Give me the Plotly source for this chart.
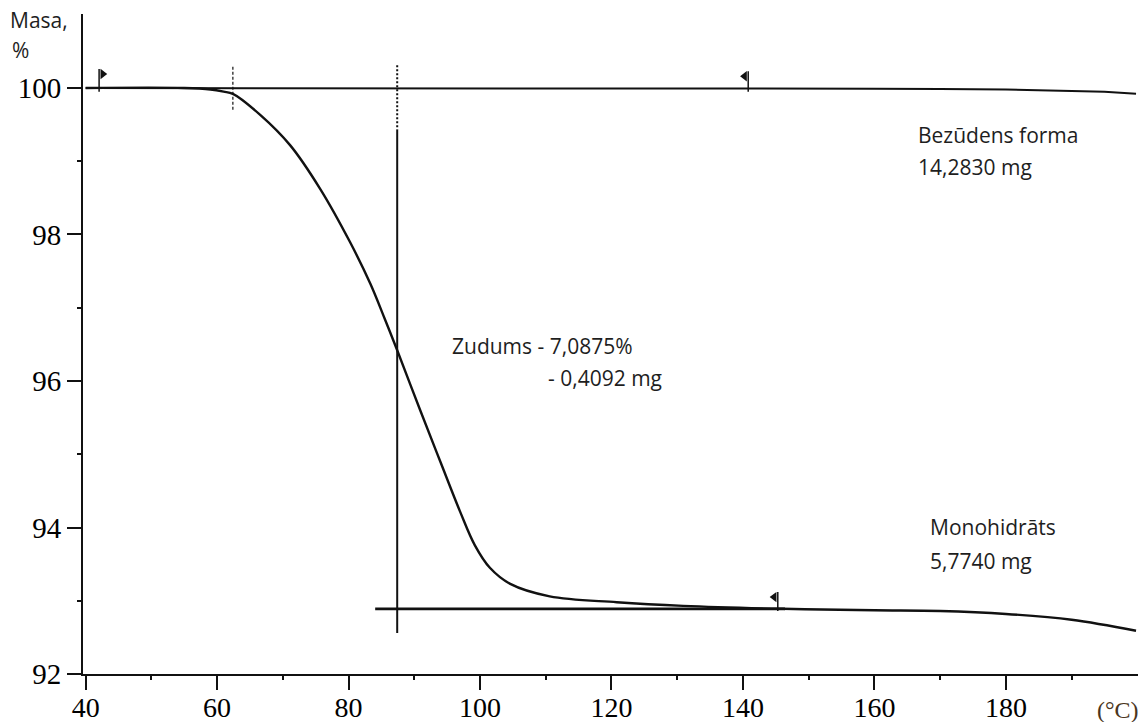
import plotly.graph_objects as go

# ---- data ----
temp_upper = [40, 60, 80, 100, 120, 140, 160, 170, 180, 190, 195, 199.8]
mass_upper = [100, 100, 100, 100, 100, 100, 99.99, 99.985, 99.98, 99.96, 99.95, 99.92]

temp_main = [40, 55, 59, 61, 62.4, 66.6, 71.1, 75.7, 80.2, 83.3, 85.5, 87.4, 90.9, 94.0,
             97.0, 99.2, 101.5, 104.6, 110.6, 120.8, 130.9, 146, 160, 170, 180, 190, 199.8]
mass_main = [100, 100, 99.98, 99.95, 99.92, 99.63, 99.22, 98.62, 97.90, 97.33, 96.85, 96.42,
             95.60, 94.89, 94.21, 93.76, 93.45, 93.23, 93.06, 92.98, 92.93, 92.89, 92.87,
             92.86, 92.82, 92.74, 92.59]

base_temp = [84.05, 146.4]
base_mass = [92.89, 92.89]

vline_temp = 87.4
vline_dash_mass = [100.31, 99.43]
vline_solid_mass = [99.43, 92.56]

onset_temp = 62.4
onset_mass = [100.29, 99.70]

flag_temp = [42.05, 140.8, 145.3]
flag_top = [100.26, 100.23, 93.12]
flag_bottom = [99.95, 99.95, 92.86]
flag_symbol = ["triangle-right", "triangle-left", "triangle-left"]
flag_offset = [0.55, -0.55, -0.55]

x_ticks = [40, 60, 80, 100, 120, 140, 160, 180]
x_minor = [50, 70, 90, 110, 130, 150, 170, 190]
y_ticks = [92, 94, 96, 98, 100]
y_minor = [93, 95, 97, 99]

ink = "#111111"
text_col = "#1e1e1e"

fig = go.Figure()

fig.add_trace(go.Scatter(x=temp_upper, y=mass_upper, mode="lines",
                         line=dict(color=ink, width=2), hoverinfo="skip"))
fig.add_trace(go.Scatter(x=temp_main, y=mass_main, mode="lines", line_shape="spline",
                         line=dict(color=ink, width=2.4), hoverinfo="skip"))
fig.add_trace(go.Scatter(x=base_temp, y=base_mass, mode="lines",
                         line=dict(color=ink, width=2.8), hoverinfo="skip"))
fig.add_trace(go.Scatter(x=[vline_temp, vline_temp], y=vline_dash_mass, mode="lines",
                         line=dict(color=ink, width=2, dash="2px,2px"), hoverinfo="skip"))
fig.add_trace(go.Scatter(x=[vline_temp, vline_temp], y=vline_solid_mass, mode="lines",
                         line=dict(color=ink, width=2), hoverinfo="skip"))
fig.add_trace(go.Scatter(x=[onset_temp, onset_temp], y=onset_mass, mode="lines",
                         line=dict(color=ink, width=1.2, dash="3px,2px"), hoverinfo="skip"))

for t, top, bot, sym, off in zip(flag_temp, flag_top, flag_bottom, flag_symbol, flag_offset):
    fig.add_trace(go.Scatter(x=[t, t], y=[top, bot], mode="lines",
                             line=dict(color=ink, width=1.5), hoverinfo="skip"))
    fig.add_trace(go.Scatter(x=[t + off], y=[top - 0.07], mode="markers",
                             marker=dict(symbol=sym, size=9, color=ink), hoverinfo="skip"))

sans = "Open Sans"
fs = 21
notes = [
    ("Bezūdens forma", 166.3, 99.36),
    ("14,2830 mg", 166.3, 98.92),
    ("Zudums - 7,0875%", 95.4, 96.48),
    ("- 0,4092 mg", 110.0, 96.04),
    ("Monohidrāts", 168.1, 94.01),
    ("5,7740 mg", 168.1, 93.54),
]
for txt, x, y in notes:
    fig.add_annotation(x=x, y=y, xref="x", yref="y", text=txt, showarrow=False,
                       xanchor="left", yanchor="middle",
                       font=dict(family=sans, size=fs, color=text_col))

fig.add_annotation(x=-0.071, y=0.991, xref="paper", yref="paper", text="Masa,",
                   showarrow=False, xanchor="left", yanchor="middle",
                   font=dict(family=sans, size=21, color=text_col))
fig.add_annotation(x=-0.069, y=0.946, xref="paper", yref="paper", text="%",
                   showarrow=False, xanchor="left", yanchor="middle",
                   font=dict(family=sans, size=21, color=text_col))
fig.add_annotation(x=0.959, y=-0.0545, xref="paper", yref="paper", text="(°C)",
                   showarrow=False, xanchor="left", yanchor="middle",
                   font=dict(family="Liberation Serif", size=24, color="#4a3520"))

fig.update_layout(
    width=1143, height=722,
    margin=dict(l=83, r=5, t=14, b=48, autoexpand=False),
    paper_bgcolor="white", plot_bgcolor="white",
    showlegend=False,
)
fig.update_xaxes(range=[39.6, 200.1], showgrid=False, zeroline=False, automargin=False,
                 showline=True, linecolor=ink, linewidth=2,
                 tickmode="array", tickvals=x_ticks, ticks="outside", ticklen=14,
                 tickwidth=2, tickcolor=ink, ticklabelstandoff=-7,
                 tickfont=dict(family="Liberation Serif", size=28, color="black"),
                 minor=dict(tickvals=x_minor, ticks="outside", ticklen=4, tickwidth=2,
                            tickcolor=ink))
fig.update_yaxes(range=[92, 101.01], showgrid=False, zeroline=False, automargin=False,
                 showline=True, linecolor=ink, linewidth=2,
                 tickmode="array", tickvals=y_ticks, ticks="outside", ticklen=14,
                 tickwidth=2, tickcolor=ink,
                 tickfont=dict(family="Liberation Serif", size=29, color="black"),
                 minor=dict(tickvals=y_minor, ticks="outside", ticklen=4, tickwidth=2,
                            tickcolor=ink))

fig.write_html("out.html")
